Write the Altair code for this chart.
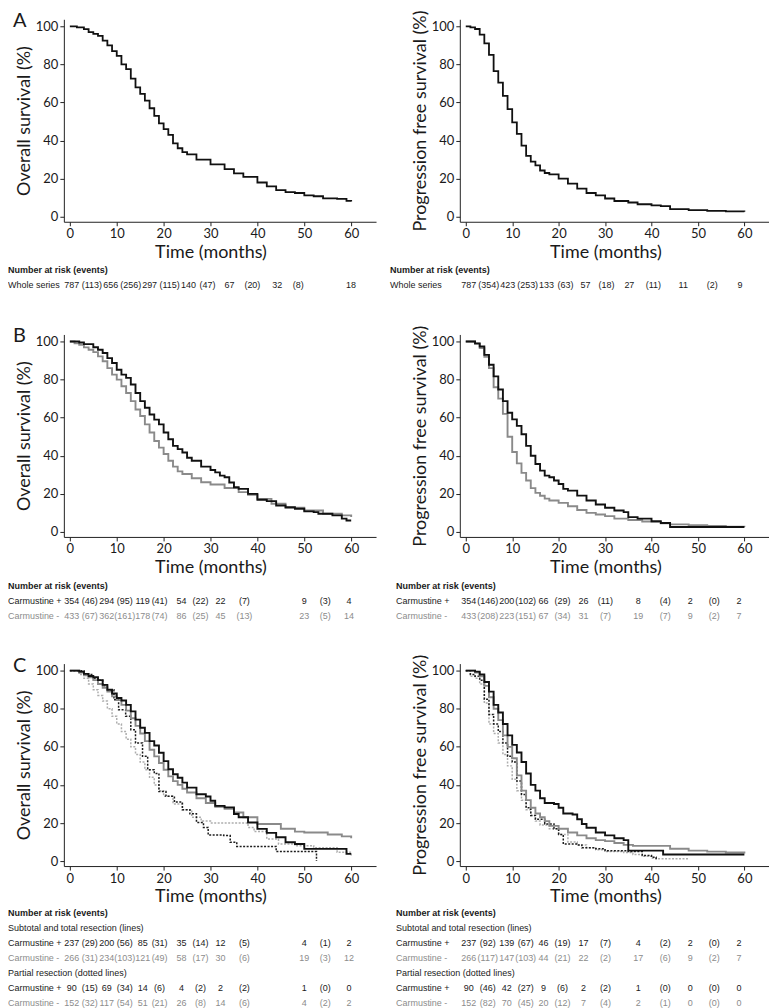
import altair as alt
import pandas as pd

# ================= Kaplan-Meier curves =================
# time (months) and survival (%) at each step
A_os_t = [0, 1.5, 3, 4, 5, 6, 7, 8, 9, 10, 11, 12, 13, 14, 15, 16, 17, 18, 19, 20, 21, 22, 23, 24, 25,
          27, 30, 33, 35, 37, 40, 42, 44, 46, 48, 50, 52, 54, 57, 59, 60]
A_os_s = [100, 99.5, 98.5, 97, 96, 95, 92.5, 90, 87, 84.5, 80, 77.5, 72.5, 68, 64.5, 61, 57, 53, 49, 46, 43, 38.5, 36, 34, 32.8,
          30, 27.5, 25, 22.8, 21, 18, 16, 14, 13, 12.5, 11.3, 10.8, 9.7, 9.4, 8.4, 8]

A_pfs_t = [0, 1, 2, 3, 4, 5, 6, 7, 8, 9, 10, 11, 12, 13, 14, 15, 16, 17, 18, 20, 22, 24, 26, 28, 30, 32,
           35, 37, 40, 42, 44, 48, 52, 56, 60]
A_pfs_s = [100, 99.5, 98.6, 95.6, 91, 85, 76.5, 70.4, 63.5, 56.5, 49.6, 43.5, 37.4, 32, 29, 27, 24.3, 23, 22.3, 20, 17.4, 14.8, 12.5, 11.3, 9.6, 8.3,
           7.5, 6.6, 6, 5.6, 4, 3.5, 3.1, 2.8, 2.6]

B_os_plus_t = [0, 2, 3, 5, 6, 7, 8, 9, 10, 11, 12, 13, 14, 15, 16, 17, 18, 19, 20, 21, 22, 23, 24, 25, 26,
               28, 30, 31, 32, 33, 34, 35, 36, 38, 40, 42, 44, 46, 48, 50, 52, 53, 56, 58, 59, 60]
B_os_plus_s = [100, 99.5, 98.6, 97, 95.7, 94, 91.3, 88.7, 85.2, 82.6, 80.9, 77.4, 73, 68.7, 65.2, 61.7, 59, 56.5, 52.2, 48.7, 45.2, 43.5, 41.7, 39, 37.4,
               34.3, 32.5, 31.3, 29.6, 28.7, 26, 23.5, 22.6, 20, 16.9, 16.2, 13.9, 13, 12.2, 10.8, 10.4, 9.6, 8.7, 7, 6, 6]
B_os_minus_t = [0, 1, 2, 3, 4, 5, 6, 7, 8, 9, 10, 11, 12, 13, 14, 15, 16, 17, 18, 19, 20, 21, 22, 23, 24,
                26, 28, 30, 33, 36, 38, 40, 43, 46, 50, 54, 58, 60]
B_os_minus_s = [100, 99, 98.3, 96.9, 95.7, 94.4, 92.2, 89.6, 86, 82.6, 80, 76.5, 73, 68.7, 64.3, 60.9, 56.5, 52.2, 47.8, 44.3, 40.9, 37.4, 34.3, 31.8, 30.4,
                28.2, 26.1, 24.9, 23.1, 20.9, 19.5, 17.4, 14.8, 12.7, 11.3, 9.6, 8.7, 7.8]

B_pfs_plus_t = [0, 2, 3, 4, 5, 6, 7, 8, 9, 10, 11, 12, 13, 14, 15, 16, 17, 18, 19, 20, 21, 22,
                24, 26, 28, 30, 32, 34, 35, 37, 40, 42, 44, 60]
B_pfs_plus_s = [100, 99, 97.4, 93, 87.8, 81.7, 74.8, 68.7, 62.6, 59.1, 55.7, 51.3, 45.2, 40, 35.7, 32.2, 29.6, 28.7, 27, 25.2, 22.6, 21.7,
                19.1, 16.5, 14.4, 12.7, 11.3, 10.4, 7.8, 7, 5.7, 4.7, 2.6, 2.6]
B_pfs_minus_t = [0, 2, 3, 4, 5, 6, 7, 8, 9, 10, 11, 12, 13, 14, 15, 16, 17, 18,
                 20, 22, 24, 26, 28, 30, 32, 35, 38, 40, 42, 44, 48, 52, 56, 60]
B_pfs_minus_s = [100, 98.8, 96.5, 92, 86, 76, 70, 62, 50, 42, 36, 31, 27, 23, 20.5, 19, 17.5, 16.5,
                 15.3, 13.5, 11.5, 10, 9.2, 8.3, 7, 6.3, 5.5, 5.2, 4.5, 4, 3.6, 3.2, 2.8, 2.6]

C_os_plus_t = [0, 2, 3, 4, 5, 6, 7, 8, 9, 10, 11, 12, 13, 14, 15, 16, 17, 18, 19, 20, 21, 22, 23, 24, 25,
               27, 29, 30, 31, 33, 35, 36, 38, 40, 42, 44, 46, 48, 50, 59, 60]
C_os_plus_s = [100, 99.5, 98.3, 97.2, 96.5, 95, 92.5, 90, 88, 85.6, 84.3, 82, 78.6, 74.3, 70, 67.3, 63, 60.7, 56.9, 52.5, 48.2, 45.6, 43.8, 41.2, 38.6,
               35.1, 33.9, 31.7, 29, 28.2, 24.7, 23, 20.3, 16.9, 14.8, 12.5, 9.9, 9, 6.4, 3.8, 3.8]
C_os_minus_t = [0, 2, 3, 4, 5, 6, 7, 8, 9, 10, 11, 12, 13, 14, 15, 16, 17, 18, 19, 20, 21, 22, 23, 24, 25,
                27, 29, 31, 33, 35, 37, 40, 45, 48, 50, 55, 58, 60]
C_os_minus_s = [100, 99, 97.5, 96.5, 95, 93, 91, 89, 86.5, 84.5, 82, 79, 75, 71, 67, 63, 58.5, 55, 51.5, 48, 44.5, 42, 40, 38, 36,
                33, 30.5, 28.5, 27.5, 25.5, 23, 19.5, 17, 15.5, 15, 14, 13, 12]
C_os_plus_p_t = [0, 3, 5, 6, 7, 8, 9.4, 10.4, 11.9, 13, 14, 15.5, 16.6, 18, 19, 20.5, 22.3, 24, 25.6, 27, 28.5, 29.5,
                 32.8, 34.2, 35.6, 44, 52.6]
C_os_plus_p_s = [100, 98, 96, 95, 92, 90, 84.7, 79.5, 76, 69, 62, 55, 48, 46, 36.5, 34, 31, 27, 24.8, 20.3, 17.7, 13.7,
                 13.4, 9.9, 7.7, 5, 0]
C_os_minus_p_t = [0, 2, 3, 4, 5, 6, 7, 8, 9, 10, 11, 12, 13, 14, 15, 16, 17, 18, 19, 20,
                  22, 24, 26, 28, 30, 38, 39.3, 42, 44.5, 48, 52, 57, 60]
C_os_minus_p_s = [100, 98, 96, 93, 90, 87, 84, 80, 76, 72, 68, 64, 60, 56, 52, 48, 44, 40, 37, 34,
                  30, 27, 23, 21, 20, 17.7, 15.5, 11.6, 9, 8, 7, 4.7, 3]

C_pfs_plus_t = [0, 2, 3, 4, 5, 6, 7, 8, 9, 10, 11, 12, 13, 14, 15, 16, 17,
                19, 20, 21, 23, 24, 25, 26, 28, 30, 32, 34, 35, 42.5, 60]
C_pfs_plus_s = [100, 99.5, 98, 94, 89, 82, 78, 72, 66, 61, 57, 52, 46, 40, 37, 33, 30.5,
                30, 28, 25, 24.5, 22, 19.5, 17.5, 15, 13.5, 12, 11, 5.5, 3.5, 3.5]
C_pfs_minus_t = [0, 2, 3, 4, 5, 6, 7, 8, 9, 10, 11, 12, 13, 14, 15, 16, 17, 18,
                 20, 22, 24, 26, 28, 30, 32, 34, 36, 44, 48, 52, 56, 60]
C_pfs_minus_s = [100, 99, 97, 92, 86, 80, 74, 66, 60, 54, 45, 37, 32, 28, 25, 23, 21, 18.5,
                 17, 15, 13.5, 12, 11, 10.5, 9.5, 8.5, 8, 6.5, 5.5, 5, 4.5, 4]
C_pfs_plus_p_t = [0, 1, 2, 3, 4, 5, 6, 7, 8, 9, 10, 11, 12, 13, 14, 15,
                  17, 19, 20, 21, 24, 25, 28, 30, 35, 38, 40, 41]
C_pfs_plus_p_s = [100, 98, 97, 95, 85, 77, 72, 68, 62, 55, 52, 42, 35, 28, 24, 22,
                  19.5, 17, 14, 9, 8.5, 7, 6.5, 5.5, 5, 3, 2, 0.5]
C_pfs_minus_p_t = [0, 1, 2, 3, 4, 5, 6, 7, 8, 9, 10, 11, 12, 13, 14, 15, 16,
                   18, 20, 22, 24, 26, 28, 30, 34, 36, 38, 40, 41, 48]
C_pfs_minus_p_s = [100, 97, 96, 93, 83, 72, 67, 62, 56, 50, 43, 37, 32, 27, 24, 21, 19,
                   17, 14, 10, 8.5, 7, 6, 5, 4.5, 3.5, 2.5, 1.5, 1.2, 1.2]

# ================= number at risk (events) tables =================
A_os_whole_risk = [787, 656, 297, 140, 67, 32, 18]
A_os_whole_ev = [113, 256, 115, 47, 20, 8]
A_pfs_whole_risk = [787, 423, 133, 57, 27, 11, 9]
A_pfs_whole_ev = [354, 253, 63, 18, 11, 2]

B_os_plus_risk = [354, 294, 119, 54, 22, 9, 4]
B_os_plus_ev = [46, 95, 41, 22, 7, 3]
B_os_minus_risk = [433, 362, 178, 86, 45, 23, 14]
B_os_minus_ev = [67, 161, 74, 25, 13, 5]
B_pfs_plus_risk = [354, 200, 66, 26, 8, 2, 2]
B_pfs_plus_ev = [146, 102, 29, 11, 4, 0]
B_pfs_minus_risk = [433, 223, 67, 31, 19, 9, 7]
B_pfs_minus_ev = [208, 151, 34, 7, 7, 2]

C_os_tot_plus_risk = [237, 200, 85, 35, 12, 4, 2]
C_os_tot_plus_ev = [29, 56, 31, 14, 5, 1]
C_os_tot_minus_risk = [266, 234, 121, 58, 30, 19, 12]
C_os_tot_minus_ev = [31, 103, 49, 17, 6, 3]
C_os_par_plus_risk = [90, 69, 14, 4, 2, 1, 0]
C_os_par_plus_ev = [15, 34, 6, 2, 2, 0]
C_os_par_minus_risk = [152, 117, 51, 26, 14, 4, 2]
C_os_par_minus_ev = [32, 54, 21, 8, 6, 2]
C_pfs_tot_plus_risk = [237, 139, 46, 17, 4, 2, 2]
C_pfs_tot_plus_ev = [92, 67, 19, 7, 2, 0]
C_pfs_tot_minus_risk = [266, 147, 44, 22, 17, 9, 7]
C_pfs_tot_minus_ev = [117, 103, 21, 2, 6, 2]
C_pfs_par_plus_risk = [90, 42, 9, 2, 1, 0, 0]
C_pfs_par_plus_ev = [46, 27, 6, 2, 0, 0]
C_pfs_par_minus_risk = [152, 70, 20, 7, 2, 0, 0]
C_pfs_par_minus_ev = [82, 45, 12, 4, 1, 0]

# ================= layout / style =================
FONT_AX = "Lato"
FONT_TB = "Liberation Sans"
TB_SIZE = 9
INK = "#1a1a1a"
GREY_TXT = "#8c8c8c"
X_DOM = [-1.28, 65.3]
Y_DOM = [-2.6, 103.7]
PLOT_H = 203
W_L, W_R = 313, 310
VIEW_LEFT_L, VIEW_LEFT_R = 64, 461
ROW_H = 15

STYLE = {
    "whole": ("#111111", None, 1.8),
    "plus": ("#111111", None, 1.9),
    "minus": ("#8a8a8a", None, 1.9),
    "plus_p": ("#1c1c1c", [2, 1.5], 1.5),
    "minus_p": ("#adadad", [2, 1.5], 1.5),
}

# column centres of the at-risk tables (page pixels)
COLS_A_L = [72, 92, 111, 131, 150, 170, 189, 208, 230, 253, 278, 299, 352]
COLS_A_R = [470, 490, 509, 529, 548, 567, 587, 608, 631, 655, 685, 714, 742]
COLS_BC_L = [72, 90, 107, 125, 143, 160, 182, 201, 221, 245, 305, 326, 350]
COLS_BC_R = [470, 489, 508, 527, 545, 564, 585, 607, 640, 667, 692, 716, 741]


def plot_chart(series, ytitle, width, title_x, letter=None):
    x_enc = alt.X("t:Q", scale=alt.Scale(domain=X_DOM, nice=False, zero=False),
                  axis=alt.Axis(values=list(range(0, 61, 10)), title="Time (months)", grid=False,
                                titleX=title_x, labelFontSize=13, titleFontSize=18,
                                titleFontWeight="normal", tickSize=4, labelPadding=2,
                                titlePadding=3, domainColor="#222", tickColor="#222",
                                labelColor=INK, titleColor=INK, labelFlush=False))
    y_enc = alt.Y("s:Q", scale=alt.Scale(domain=Y_DOM, nice=False, zero=False),
                  axis=alt.Axis(values=list(range(0, 101, 20)), title=ytitle, grid=False,
                                labelFontSize=13, titleFontSize=18, titleFontWeight="normal",
                                tickSize=4, labelPadding=2, titlePadding=2,
                                domainColor="#222", tickColor="#222",
                                labelColor=INK, titleColor=INK, labelFlush=False))
    layers = []
    for key, ts, ss in series:
        color, dash, sw = STYLE[key]
        df = pd.DataFrame({"t": ts, "s": ss, "i": list(range(len(ts)))})
        kw = dict(interpolate="step-after", color=color, strokeWidth=sw)
        if dash:
            kw["strokeDash"] = dash
        layers.append(alt.Chart(df).mark_line(**kw).encode(x=x_enc, y=y_enc, order="i:Q"))
    ch = alt.layer(*layers).properties(width=width, height=PLOT_H)
    if letter:
        ch = ch.properties(title=alt.TitleParams(text=letter, anchor="start", frame="group",
                                                 fontSize=20, fontWeight="normal", font=FONT_AX,
                                                 color=INK, dx=-51, dy=12, offset=0))
    return ch


def table_chart(rows, cols_px, label_px, view_left, first_y, width, height):
    recs = []
    for r, row in enumerate(rows):
        kind = row[0]
        if kind == "head":
            recs.append(dict(row=r, col=-1, txt=row[1], tone="k", kind="head"))
        elif kind == "sub":
            recs.append(dict(row=r, col=-1, txt=row[1], tone="k", kind="label"))
        else:
            _, label, tone, risk, ev = row
            recs.append(dict(row=r, col=-1, txt=label, tone=tone, kind="label"))
            for k, v in enumerate(risk):
                recs.append(dict(row=r, col=2 * k, txt=str(v), tone=tone, kind="num"))
            for k, v in enumerate(ev):
                recs.append(dict(row=r, col=2 * k + 1, txt=f"({v})", tone=tone, kind="num"))
    df = pd.DataFrame(recs)
    n = len(rows)
    xs = alt.X("col:Q", scale=alt.Scale(domain=list(range(-1, 13)),
                                        range=[label_px - view_left] + [c - view_left for c in cols_px],
                                        nice=False, zero=False), axis=None)
    ys = alt.Y("row:Q", scale=alt.Scale(domain=[0, n - 1], range=[first_y, first_y + ROW_H * (n - 1)],
                                        nice=False, zero=False), axis=None)
    col = alt.Color("tone:N", scale=alt.Scale(domain=["k", "g"], range=[INK, GREY_TXT]), legend=None)
    base = alt.Chart(df)
    head = base.transform_filter("datum.kind == 'head'").mark_text(
        align="left", baseline="middle", font=FONT_TB, fontSize=TB_SIZE, fontWeight="bold").encode(
        x=xs, y=ys, text="txt:N", color=col)
    labels = base.transform_filter("datum.kind == 'label'").mark_text(
        align="left", baseline="middle", font=FONT_TB, fontSize=TB_SIZE).encode(
        x=xs, y=ys, text="txt:N", color=col)
    nums = base.transform_filter("datum.kind == 'num'").mark_text(
        align="center", baseline="middle", font=FONT_TB, fontSize=TB_SIZE).encode(
        x=xs, y=ys, text="txt:N", color=col)
    return alt.layer(head, labels, nums).properties(width=width, height=height)


HEAD = ("head", "Number at risk (events)")

pA_L = plot_chart([("whole", A_os_t, A_os_s)], "Overall survival (%)", W_L, 147, "A")
pA_R = plot_chart([("whole", A_pfs_t, A_pfs_s)], "Progression free survival (%)", W_R, 146)
tA_L = table_chart([HEAD, ("row", "Whole series", "k", A_os_whole_risk, A_os_whole_ev)],
                   COLS_A_L, 8, VIEW_LEFT_L, 48, W_L, 113)
tA_R = table_chart([HEAD, ("row", "Whole series", "k", A_pfs_whole_risk, A_pfs_whole_ev)],
                   COLS_A_R, 391, VIEW_LEFT_R, 48, W_R, 113)

pB_L = plot_chart([("minus", B_os_minus_t, B_os_minus_s), ("plus", B_os_plus_t, B_os_plus_s)],
                  "Overall survival (%)", W_L, 147, "B")
pB_R = plot_chart([("minus", B_pfs_minus_t, B_pfs_minus_s), ("plus", B_pfs_plus_t, B_pfs_plus_s)],
                  "Progression free survival (%)", W_R, 146)
tB_L = table_chart([HEAD, ("row", "Carmustine +", "k", B_os_plus_risk, B_os_plus_ev),
                    ("row", "Carmustine -", "g", B_os_minus_risk, B_os_minus_ev)],
                   COLS_BC_L, 8, VIEW_LEFT_L, 49, W_L, 127)
tB_R = table_chart([HEAD, ("row", "Carmustine +", "k", B_pfs_plus_risk, B_pfs_plus_ev),
                    ("row", "Carmustine -", "g", B_pfs_minus_risk, B_pfs_minus_ev)],
                   COLS_BC_R, 397, VIEW_LEFT_R, 49, W_R, 127)

pC_L = plot_chart([("minus_p", C_os_minus_p_t, C_os_minus_p_s), ("plus_p", C_os_plus_p_t, C_os_plus_p_s),
                   ("minus", C_os_minus_t, C_os_minus_s), ("plus", C_os_plus_t, C_os_plus_s)],
                  "Overall survival (%)", W_L, 147, "C")
pC_R = plot_chart([("minus_p", C_pfs_minus_p_t, C_pfs_minus_p_s), ("plus_p", C_pfs_plus_p_t, C_pfs_plus_p_s),
                   ("minus", C_pfs_minus_t, C_pfs_minus_s), ("plus", C_pfs_plus_t, C_pfs_plus_s)],
                  "Progression free survival (%)", W_R, 146)
tC_L = table_chart([HEAD, ("sub", "Subtotal and total resection (lines)"),
                    ("row", "Carmustine +", "k", C_os_tot_plus_risk, C_os_tot_plus_ev),
                    ("row", "Carmustine -", "g", C_os_tot_minus_risk, C_os_tot_minus_ev),
                    ("sub", "Partial resection (dotted lines)"),
                    ("row", "Carmustine +", "k", C_os_par_plus_risk, C_os_par_plus_ev),
                    ("row", "Carmustine -", "g", C_os_par_minus_risk, C_os_par_minus_ev)],
                   COLS_BC_L, 8, VIEW_LEFT_L, 47, W_L, 136)
tC_R = table_chart([HEAD, ("sub", "Subtotal and total resection (lines)"),
                    ("row", "Carmustine +", "k", C_pfs_tot_plus_risk, C_pfs_tot_plus_ev),
                    ("row", "Carmustine -", "g", C_pfs_tot_minus_risk, C_pfs_tot_minus_ev),
                    ("sub", "Partial resection (dotted lines)"),
                    ("row", "Carmustine +", "k", C_pfs_par_plus_risk, C_pfs_par_plus_ev),
                    ("row", "Carmustine -", "g", C_pfs_par_minus_risk, C_pfs_par_minus_ev)],
                   COLS_BC_R, 397, VIEW_LEFT_R, 47, W_R, 136)

chart = alt.concat(pA_L, pA_R, tA_L, tA_R, pB_L, pB_R, tB_L, tB_R, pC_L, pC_R, tC_L, tC_R,
                   columns=2, spacing={"row": 0, "column": 84}, bounds="flush").properties(
    padding={"left": 0, "top": 0, "right": 0, "bottom": 0}
).configure_view(stroke=None).configure_axis(labelFont=FONT_AX, titleFont=FONT_AX)

chart.save("out.html", embed_options={"renderer": "svg", "actions": False})
